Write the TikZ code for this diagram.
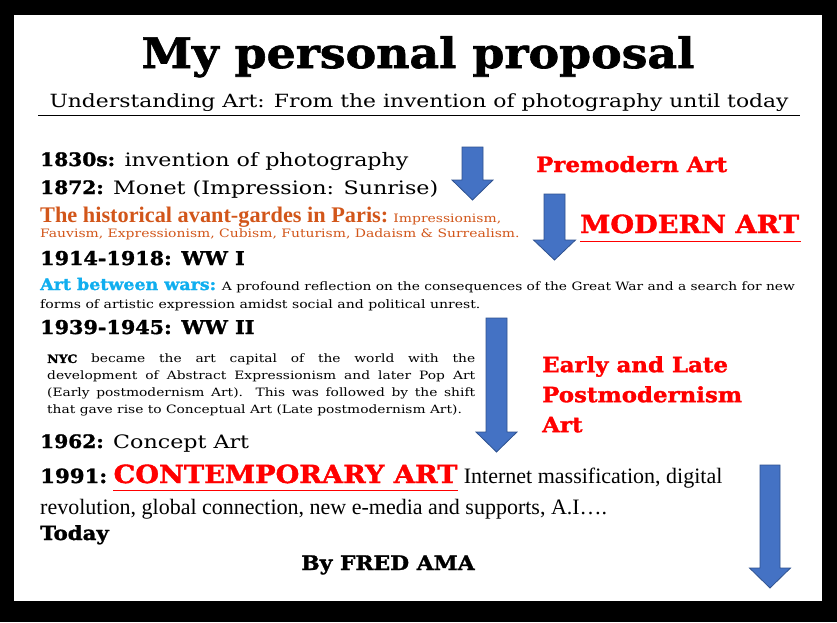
\documentclass[tikz,border=0pt]{standalone}
\usepackage{fontspec}
\setmainfont{DejaVu Serif}[FakeStretch=1.2]
\newfontfamily\heavyfont{DejaVu Serif Bold}[FakeStretch=1.09, FakeBold=1.5]
\newfontfamily\timesfont{Liberation Serif}
\usetikzlibrary{positioning}

\definecolor{avantorange}{HTML}{D2561A}
\definecolor{warsblue}{HTML}{10AEEF}
\definecolor{arrowfill}{HTML}{4472C4}
\definecolor{arrowline}{HTML}{2F528F}

\newcommand{\fsize}[2]{\fontsize{#1}{#2}\selectfont}
\newcommand{\yr}[1]{{\heavyfont #1}}
% down block arrow: centre x, top, head base, tip, half shaft, half head
\newcommand{\downblock}[6]{%
	\draw[blockarrow] ({#1-#5},#2) -- ({#1+#5},#2) -- ({#1+#5},#3) -- ({#1+#6},#3)
		-- (#1,#4) -- ({#1-#6},#3) -- ({#1-#5},#3) -- cycle;}

\begin{document}
\begin{tikzpicture}
	[
		x				= 1pt,
		y				= -1pt,
		textline/.style	= {anchor = base west, inner sep = 0pt},
		eraname/.style	= {anchor = base west, inner sep = 0pt, text = red},
		blockarrow/.style	= {fill = arrowfill, draw = arrowline, line width = 0.8pt}
	]
		%
		\fill[black] (0,0) rectangle (837,622);
		\fill[white] (14,15) rectangle (822,601);
		%
		\node[anchor = base, inner sep = 0pt, font = \fsize{42}{42}\heavyfont] (title) at (418,68) {My personal proposal};
		\node[anchor = base, inner sep = 0pt, font = \fsize{18.2}{18}] (subtitle) at (419,107) {Understanding Art: From the invention of photography until today};
		\draw[line width = 0.8pt] (38,115) -- (800,115);
		%
		\node[textline, font = \fsize{18.5}{19}] (photo) at (40,166) {\yr{1830s:} invention of photography};
		\node[textline, font = \fsize{18.5}{19}] (monet) at (40,194) {\yr{1872:} Monet (Impression: Sunrise)};
		\node[textline, text = avantorange] (avant) at (40,222) {{\timesfont\bfseries\fsize{22.3}{22}The historical avant-gardes in Paris:} {\fsize{11.6}{12}Impressionism,}};
		\node[textline, text = avantorange, font = \fsize{11.6}{12}] (avanttwo) at (40,237) {Fauvism, Expressionism, Cubism, Futurism, Dadaism \& Surrealism.};
		\node[textline, font = \fsize{19}{19}\heavyfont] (wwone) at (40,265) {1914-1918: WW I};
		\node[textline, font = \fsize{11.5}{12}] (between) at (40,290) {{\fsize{16}{16}\heavyfont\color{warsblue}Art between wars:} A profound reflection on the consequences of the Great War and a search for new};
		\node[textline, font = \fsize{11.7}{12}] (betweentwo) at (40,308) {forms of artistic expression amidst social and political unrest.};
		\node[textline, font = \fsize{19}{19}\heavyfont] (wwtwo) at (40,334) {1939-1945: WW II};
		\node[anchor = north west, inner sep = 0pt, text width = 428pt, align = justify, font = \fsize{11.5}{17}] (nyc) at (47,354)
		{\yr{NYC} became the art capital of the world with the\linebreak development of Abstract Expressionism and later Pop Art\linebreak (Early postmodernism Art). This was followed by the shift\linebreak that gave rise to Conceptual Art (Late postmodernism Art).};
		\node[textline, font = \fsize{18.5}{19}] (concept) at (40,448) {\yr{1962:} Concept Art};
		\node[textline, font = \fsize{19.5}{19}\heavyfont] (year) at (40,483) {1991:};
		\node[eraname, base right = 6pt of year, font = \fsize{25}{25}\heavyfont] (contemp) {CONTEMPORARY ART};
		\node[textline, base right = 6pt of contemp, font = \fsize{22}{22}\timesfont] (internet) {Internet massification, digital};
		\node[textline, font = \fsize{22}{22}\timesfont] (revolution) at (40,514) {revolution, global connection, new e-media and supports, A.I….};
		\node[textline, font = \fsize{19.5}{19}\heavyfont] (today) at (40,540) {Today};
		\node[anchor = base, inner sep = 0pt, font = \fsize{20}{20}\heavyfont] (author) at (388,570) {By FRED AMA};
		%
		\node[eraname, font = \fsize{21}{21}\heavyfont] (premodern) at (536,172) {Premodern Art};
		\node[eraname, font = \fsize{25}{25}\heavyfont] (modern) at (580,233) {MODERN ART};
		\node[eraname, anchor = north west, align = left, font = \fsize{21}{30}\heavyfont] (postmodern) at (542,356) {Early and Late\\Postmodernism\\Art};
		\draw[red, line width = 0.8pt] ([yshift = -8pt]modern.base west) -- ([xshift = 2pt, yshift = -8pt]modern.base east);
		\draw[red, line width = 0.8pt] ([yshift = -7pt]contemp.base west) -- ([yshift = -7pt]contemp.base east);
		%
		\downblock{472.5}{147}{180}{200}{10.5}{20.5}
		\downblock{554.5}{194}{240}{260}{10.5}{21}
		\downblock{496.5}{318}{432}{452}{10.5}{20.5}
		\downblock{770}{465}{568}{588}{10}{20.5}
		%
\end{tikzpicture}
\end{document}
